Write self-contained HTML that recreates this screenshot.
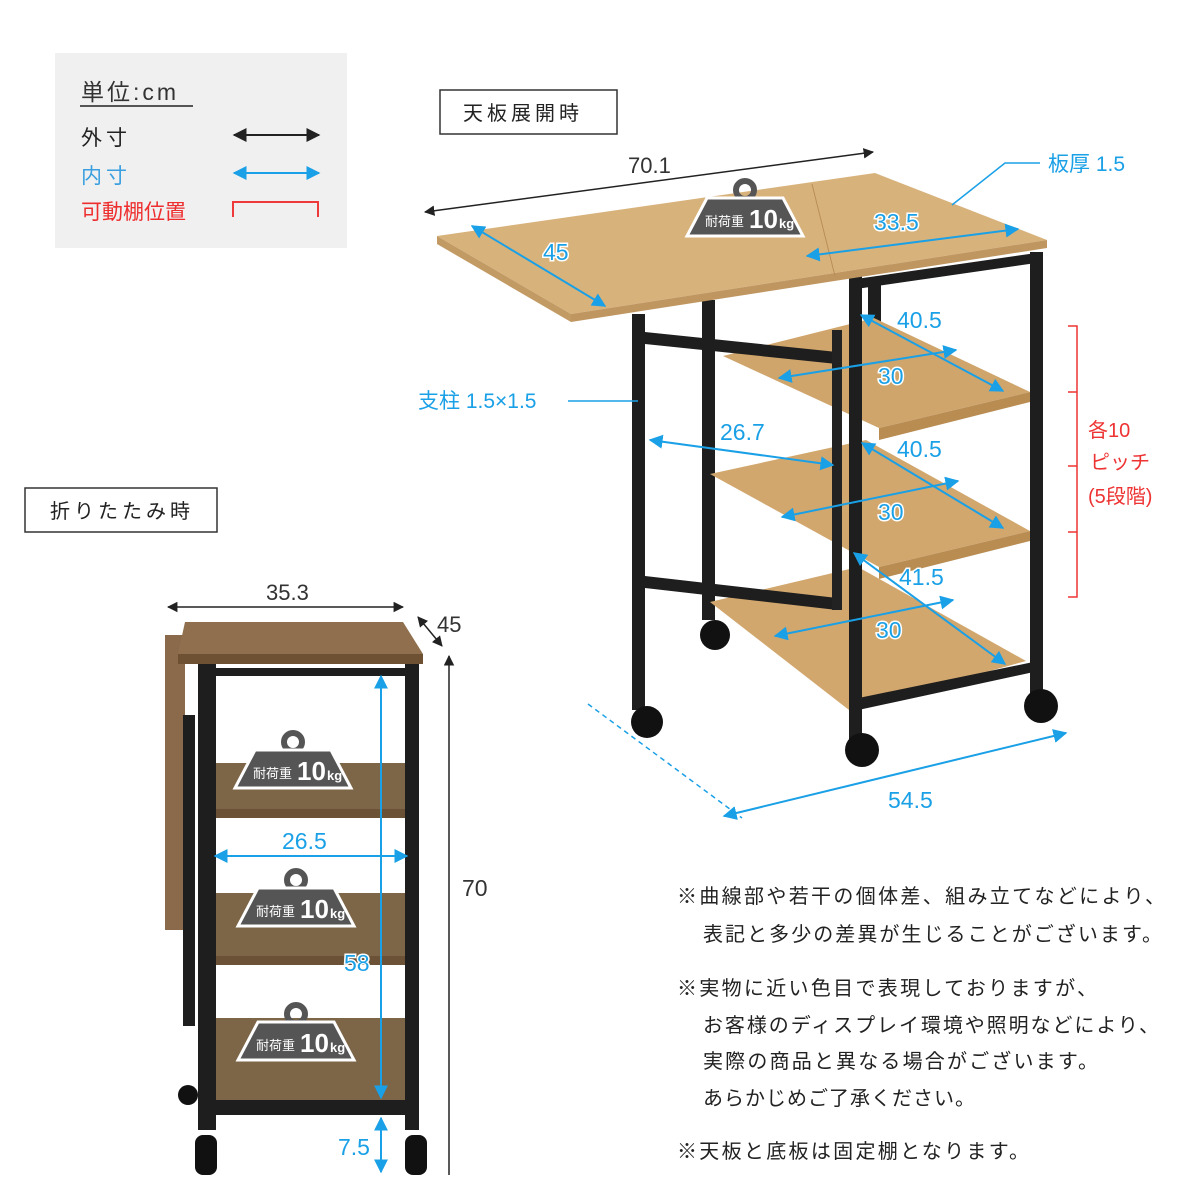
<!DOCTYPE html>
<html><head><meta charset="utf-8"><style>
html,body{margin:0;padding:0;background:#fff}
svg{display:block}
text{font-family:"Liberation Sans","Noto Sans CJK JP",sans-serif}
</style></head><body>
<svg width="1200" height="1200" viewBox="0 0 1200 1200" xmlns="http://www.w3.org/2000/svg">
<defs>
<marker id="ab" viewBox="0 0 10 10" refX="9" refY="5" markerWidth="7" markerHeight="7" orient="auto-start-reverse"><path d="M0,0L10,5L0,10z" fill="#1aa0e6"/></marker>
<marker id="ak" viewBox="0 0 10 10" refX="9" refY="5" markerWidth="7" markerHeight="7" orient="auto-start-reverse"><path d="M0,0L10,5L0,10z" fill="#222"/></marker>
<g id="wt">
<circle cx="0" cy="-28" r="9" fill="none" stroke="#555" stroke-width="6"/>
<path d="M-38,-20 L38,-20 L58,18 L-58,18 Z" fill="#555" stroke="#fff" stroke-width="3"/>
<text x="-40" y="8" font-size="13" fill="#fff">耐荷重</text>
<text x="4" y="10" font-size="26" fill="#fff" font-weight="bold">10</text>
<text x="34" y="10" font-size="13" fill="#fff" font-weight="bold">kg</text>
</g>
</defs>

<!-- legend -->
<rect x="55" y="53" width="292" height="195" fill="#f0f0f0"/>
<text x="81" y="100" font-size="23" fill="#333" letter-spacing="3">単位:cm</text>
<line x1="80" y1="106" x2="193" y2="106" stroke="#555" stroke-width="2"/>
<text x="81" y="145" font-size="21" fill="#222" letter-spacing="4">外寸</text>
<line x1="234" y1="135" x2="319" y2="135" stroke="#222" stroke-width="2" marker-start="url(#ak)" marker-end="url(#ak)"/>
<text x="81" y="183" font-size="21" fill="#3a9fdf" letter-spacing="4">内寸</text>
<line x1="234" y1="173" x2="319" y2="173" stroke="#1aa0e6" stroke-width="2" marker-start="url(#ab)" marker-end="url(#ab)"/>
<text x="81" y="219" font-size="21" fill="#ee2e2e">可動棚位置</text>
<path d="M233,217 V202 H318 V217" fill="none" stroke="#ee3a3a" stroke-width="2"/>

<!-- labels boxes -->
<rect x="440" y="90" width="177" height="44" fill="#fff" stroke="#333" stroke-width="1.5"/>
<text x="463" y="120" font-size="20" fill="#222" letter-spacing="4">天板展開時</text>
<rect x="25" y="488" width="192" height="44" fill="#fff" stroke="#333" stroke-width="1.5"/>
<text x="50" y="518" font-size="20" fill="#222" letter-spacing="4">折りたたみ時</text>

<!-- expanded table -->
<g>
<!-- back legs -->
<rect x="702" y="300" width="13" height="320" fill="#1e1e1e"/>
<rect x="868" y="280" width="13" height="60" fill="#1e1e1e"/>
<circle cx="715" cy="635" r="15" fill="#111"/>
<!-- shelves -->
<polygon points="723,356 874,318 1030,392 879,428" fill="#cfa56c"/>
<polygon points="879,428 1030,392 1030,402 879,440" fill="#b98c52"/>
<polygon points="710,474 866,440 1030,531 879,567" fill="#d1a76e"/>
<polygon points="879,567 1030,531 1030,541 879,579" fill="#b98c52"/>
<polygon points="710,602 858,567 1026,661 849,710" fill="#d1a76e"/>
<!-- cross bars -->
<polygon points="645,332 837,352 837,364 645,344" fill="#1e1e1e"/>
<polygon points="645,576 837,598 837,610 645,588" fill="#1e1e1e"/>
<rect x="832" y="330" width="10" height="280" fill="#222"/>
<!-- frame rails -->
<polygon points="849,280 1043,252 1043,262 849,290" fill="#1e1e1e"/>
<polygon points="849,700 1043,660 1043,670 849,712" fill="#1e1e1e"/>
<!-- legs -->
<rect x="632" y="314" width="13" height="396" fill="#1e1e1e"/>
<rect x="849" y="276" width="13" height="464" fill="#1e1e1e"/>
<rect x="1030" y="252" width="13" height="441" fill="#1e1e1e"/>
<!-- wheels -->
<circle cx="647" cy="722" r="16" fill="#111"/>
<circle cx="862" cy="750" r="17" fill="#111"/>
<circle cx="1041" cy="706" r="17" fill="#111"/>
<!-- tabletop -->
<polygon points="437,236 875,173 1047,240 571,314" fill="#d8b27b"/>
<polygon points="437,236 571,314 571,322 437,244" fill="#c29a63"/>
<polygon points="571,314 1047,240 1047,248 571,322" fill="#bf9660"/>
<line x1="812" y1="184" x2="835" y2="276" stroke="#b88d57" stroke-width="1"/>
</g>
<use href="#wt" x="745" y="218"/>

<!-- dims on expanded -->
<line x1="425" y1="212" x2="873" y2="152" stroke="#222" stroke-width="1.5" marker-start="url(#ak)" marker-end="url(#ak)"/>
<text x="628" y="173" font-size="22" fill="#333">70.1</text>
<polyline points="952,205 1005,163 1040,163" fill="none" stroke="#1aa0e6" stroke-width="1.5"/>
<text x="1048" y="171" font-size="21" fill="#1aa0e6">板厚 1.5</text>
<line x1="472" y1="226" x2="605" y2="306" stroke="#1aa0e6" stroke-width="2" marker-start="url(#ab)" marker-end="url(#ab)"/>
<text x="543" y="260" font-size="23" fill="#1aa0e6" stroke="#fff" stroke-width="3" paint-order="stroke">45</text>
<line x1="807" y1="256" x2="1018" y2="229" stroke="#1aa0e6" stroke-width="2" marker-start="url(#ab)" marker-end="url(#ab)"/>
<text x="874" y="230" font-size="23" fill="#1aa0e6" stroke="#fff" stroke-width="3" paint-order="stroke">33.5</text>
<text x="418" y="408" font-size="21" fill="#1aa0e6">支柱 1.5×1.5</text>
<line x1="568" y1="401" x2="638" y2="401" stroke="#1aa0e6" stroke-width="1.5"/>
<line x1="861" y1="315" x2="1003" y2="391" stroke="#1aa0e6" stroke-width="2" marker-start="url(#ab)" marker-end="url(#ab)"/>
<line x1="779" y1="378" x2="956" y2="350" stroke="#1aa0e6" stroke-width="2" marker-start="url(#ab)" marker-end="url(#ab)"/>
<text x="897" y="328" font-size="23" fill="#1aa0e6" stroke="#fff" stroke-width="3" paint-order="stroke">40.5</text>
<text x="878" y="384" font-size="23" fill="#1aa0e6" stroke="#fff" stroke-width="3" paint-order="stroke">30</text>
<line x1="650" y1="440" x2="833" y2="465" stroke="#1aa0e6" stroke-width="2" marker-start="url(#ab)" marker-end="url(#ab)"/>
<text x="720" y="440" font-size="23" fill="#1aa0e6" stroke="#fff" stroke-width="3" paint-order="stroke">26.7</text>
<line x1="862" y1="443" x2="1003" y2="528" stroke="#1aa0e6" stroke-width="2" marker-start="url(#ab)" marker-end="url(#ab)"/>
<line x1="782" y1="517" x2="958" y2="481" stroke="#1aa0e6" stroke-width="2" marker-start="url(#ab)" marker-end="url(#ab)"/>
<text x="897" y="457" font-size="23" fill="#1aa0e6" stroke="#fff" stroke-width="3" paint-order="stroke">40.5</text>
<text x="878" y="520" font-size="23" fill="#1aa0e6" stroke="#fff" stroke-width="3" paint-order="stroke">30</text>
<line x1="854" y1="553" x2="1005" y2="664" stroke="#1aa0e6" stroke-width="2" marker-start="url(#ab)" marker-end="url(#ab)"/>
<line x1="775" y1="636" x2="953" y2="600" stroke="#1aa0e6" stroke-width="2" marker-start="url(#ab)" marker-end="url(#ab)"/>
<text x="899" y="585" font-size="23" fill="#1aa0e6" stroke="#fff" stroke-width="3" paint-order="stroke">41.5</text>
<text x="876" y="638" font-size="23" fill="#1aa0e6" stroke="#fff" stroke-width="3" paint-order="stroke">30</text>
<path d="M1068,326 H1077 V597 H1068 M1068,392 H1077 M1068,466 H1077 M1068,532 H1077" fill="none" stroke="#e33" stroke-width="1.5"/>
<text x="1088" y="437" font-size="20" fill="#e33">各10</text>
<text x="1090" y="469" font-size="20" fill="#e33">ピッチ</text>
<text x="1088" y="503" font-size="20" fill="#e33">(5段階)</text>
<line x1="588" y1="704" x2="742" y2="818" stroke="#1aa0e6" stroke-width="1.5" stroke-dasharray="5,4"/>
<line x1="724" y1="816" x2="1066" y2="733" stroke="#1aa0e6" stroke-width="2" marker-start="url(#ab)" marker-end="url(#ab)"/>
<text x="888" y="808" font-size="23" fill="#1aa0e6">54.5</text>

<!-- folded cart -->
<g>
<rect x="165" y="635" width="20" height="295" fill="#8a6a4a"/>
<rect x="183" y="715" width="12" height="311" fill="#1e1e1e"/>
<circle cx="188" cy="1095" r="10" fill="#111"/>
<rect x="215" y="668" width="195" height="8" fill="#1e1e1e"/>
<polygon points="212,763 405,763 410,809 212,809" fill="#7d6548"/>
<rect x="212" y="809" width="198" height="9" fill="#6b5236"/>
<polygon points="212,893 405,893 410,956 212,956" fill="#7d6548"/>
<rect x="212" y="956" width="198" height="9" fill="#6b5236"/>
<polygon points="212,1018 405,1018 410,1100 212,1100" fill="#7d6548"/>
<rect x="212" y="1100" width="198" height="15" fill="#1e1e1e"/>
<rect x="198" y="664" width="18" height="466" fill="#1e1e1e"/>
<rect x="405" y="664" width="14" height="466" fill="#1e1e1e"/>
<rect x="195" y="1135" width="22" height="40" rx="8" fill="#111"/>
<rect x="405" y="1135" width="22" height="40" rx="8" fill="#111"/>
<polygon points="185,622 403,622 423,654 178,654" fill="#8f6f4d"/>
<rect x="178" y="654" width="245" height="10" fill="#6e5133"/>
</g>
<use href="#wt" x="293" y="770"/>
<use href="#wt" x="296" y="908"/>
<use href="#wt" x="296" y="1042"/>
<line x1="168" y1="607" x2="403" y2="607" stroke="#222" stroke-width="1.5" marker-start="url(#ak)" marker-end="url(#ak)"/>
<text x="266" y="600" font-size="22" fill="#333">35.3</text>
<line x1="418" y1="617" x2="442" y2="646" stroke="#222" stroke-width="1.5" marker-start="url(#ak)" marker-end="url(#ak)"/>
<text x="437" y="632" font-size="22" fill="#333">45</text>
<line x1="449" y1="656" x2="449" y2="1175" stroke="#222" stroke-width="1.5" marker-start="url(#ak)"/>
<text x="462" y="896" font-size="23" fill="#333">70</text>
<line x1="381" y1="676" x2="381" y2="1098" stroke="#1aa0e6" stroke-width="2" marker-start="url(#ab)" marker-end="url(#ab)"/>
<line x1="215" y1="856" x2="407" y2="856" stroke="#1aa0e6" stroke-width="2" marker-start="url(#ab)" marker-end="url(#ab)"/>
<text x="282" y="849" font-size="23" fill="#1aa0e6" stroke="#fff" stroke-width="3" paint-order="stroke">26.5</text>
<text x="344" y="971" font-size="23" fill="#1aa0e6" stroke="#fff" stroke-width="3" paint-order="stroke">58</text>
<line x1="381" y1="1118" x2="381" y2="1172" stroke="#1aa0e6" stroke-width="2" marker-start="url(#ab)" marker-end="url(#ab)"/>
<text x="338" y="1155" font-size="23" fill="#1aa0e6" stroke="#fff" stroke-width="3" paint-order="stroke">7.5</text>

<!-- notes -->
<g font-size="20" fill="#222">
<text x="677" y="903" textLength="488">※曲線部や若干の個体差、組み立てなどにより、</text>
<text x="703" y="941" textLength="459">表記と多少の差異が生じることがございます。</text>
<text x="677" y="995" textLength="420">※実物に近い色目で表現しておりますが、</text>
<text x="703" y="1032" textLength="456">お客様のディスプレイ環境や照明などにより、</text>
<text x="703" y="1068" textLength="395">実際の商品と異なる場合がございます。</text>
<text x="703" y="1105" textLength="272">あらかじめご了承ください。</text>
<text x="677" y="1158" textLength="352">※天板と底板は固定棚となります。</text>
</g>
</svg>
</body></html>
